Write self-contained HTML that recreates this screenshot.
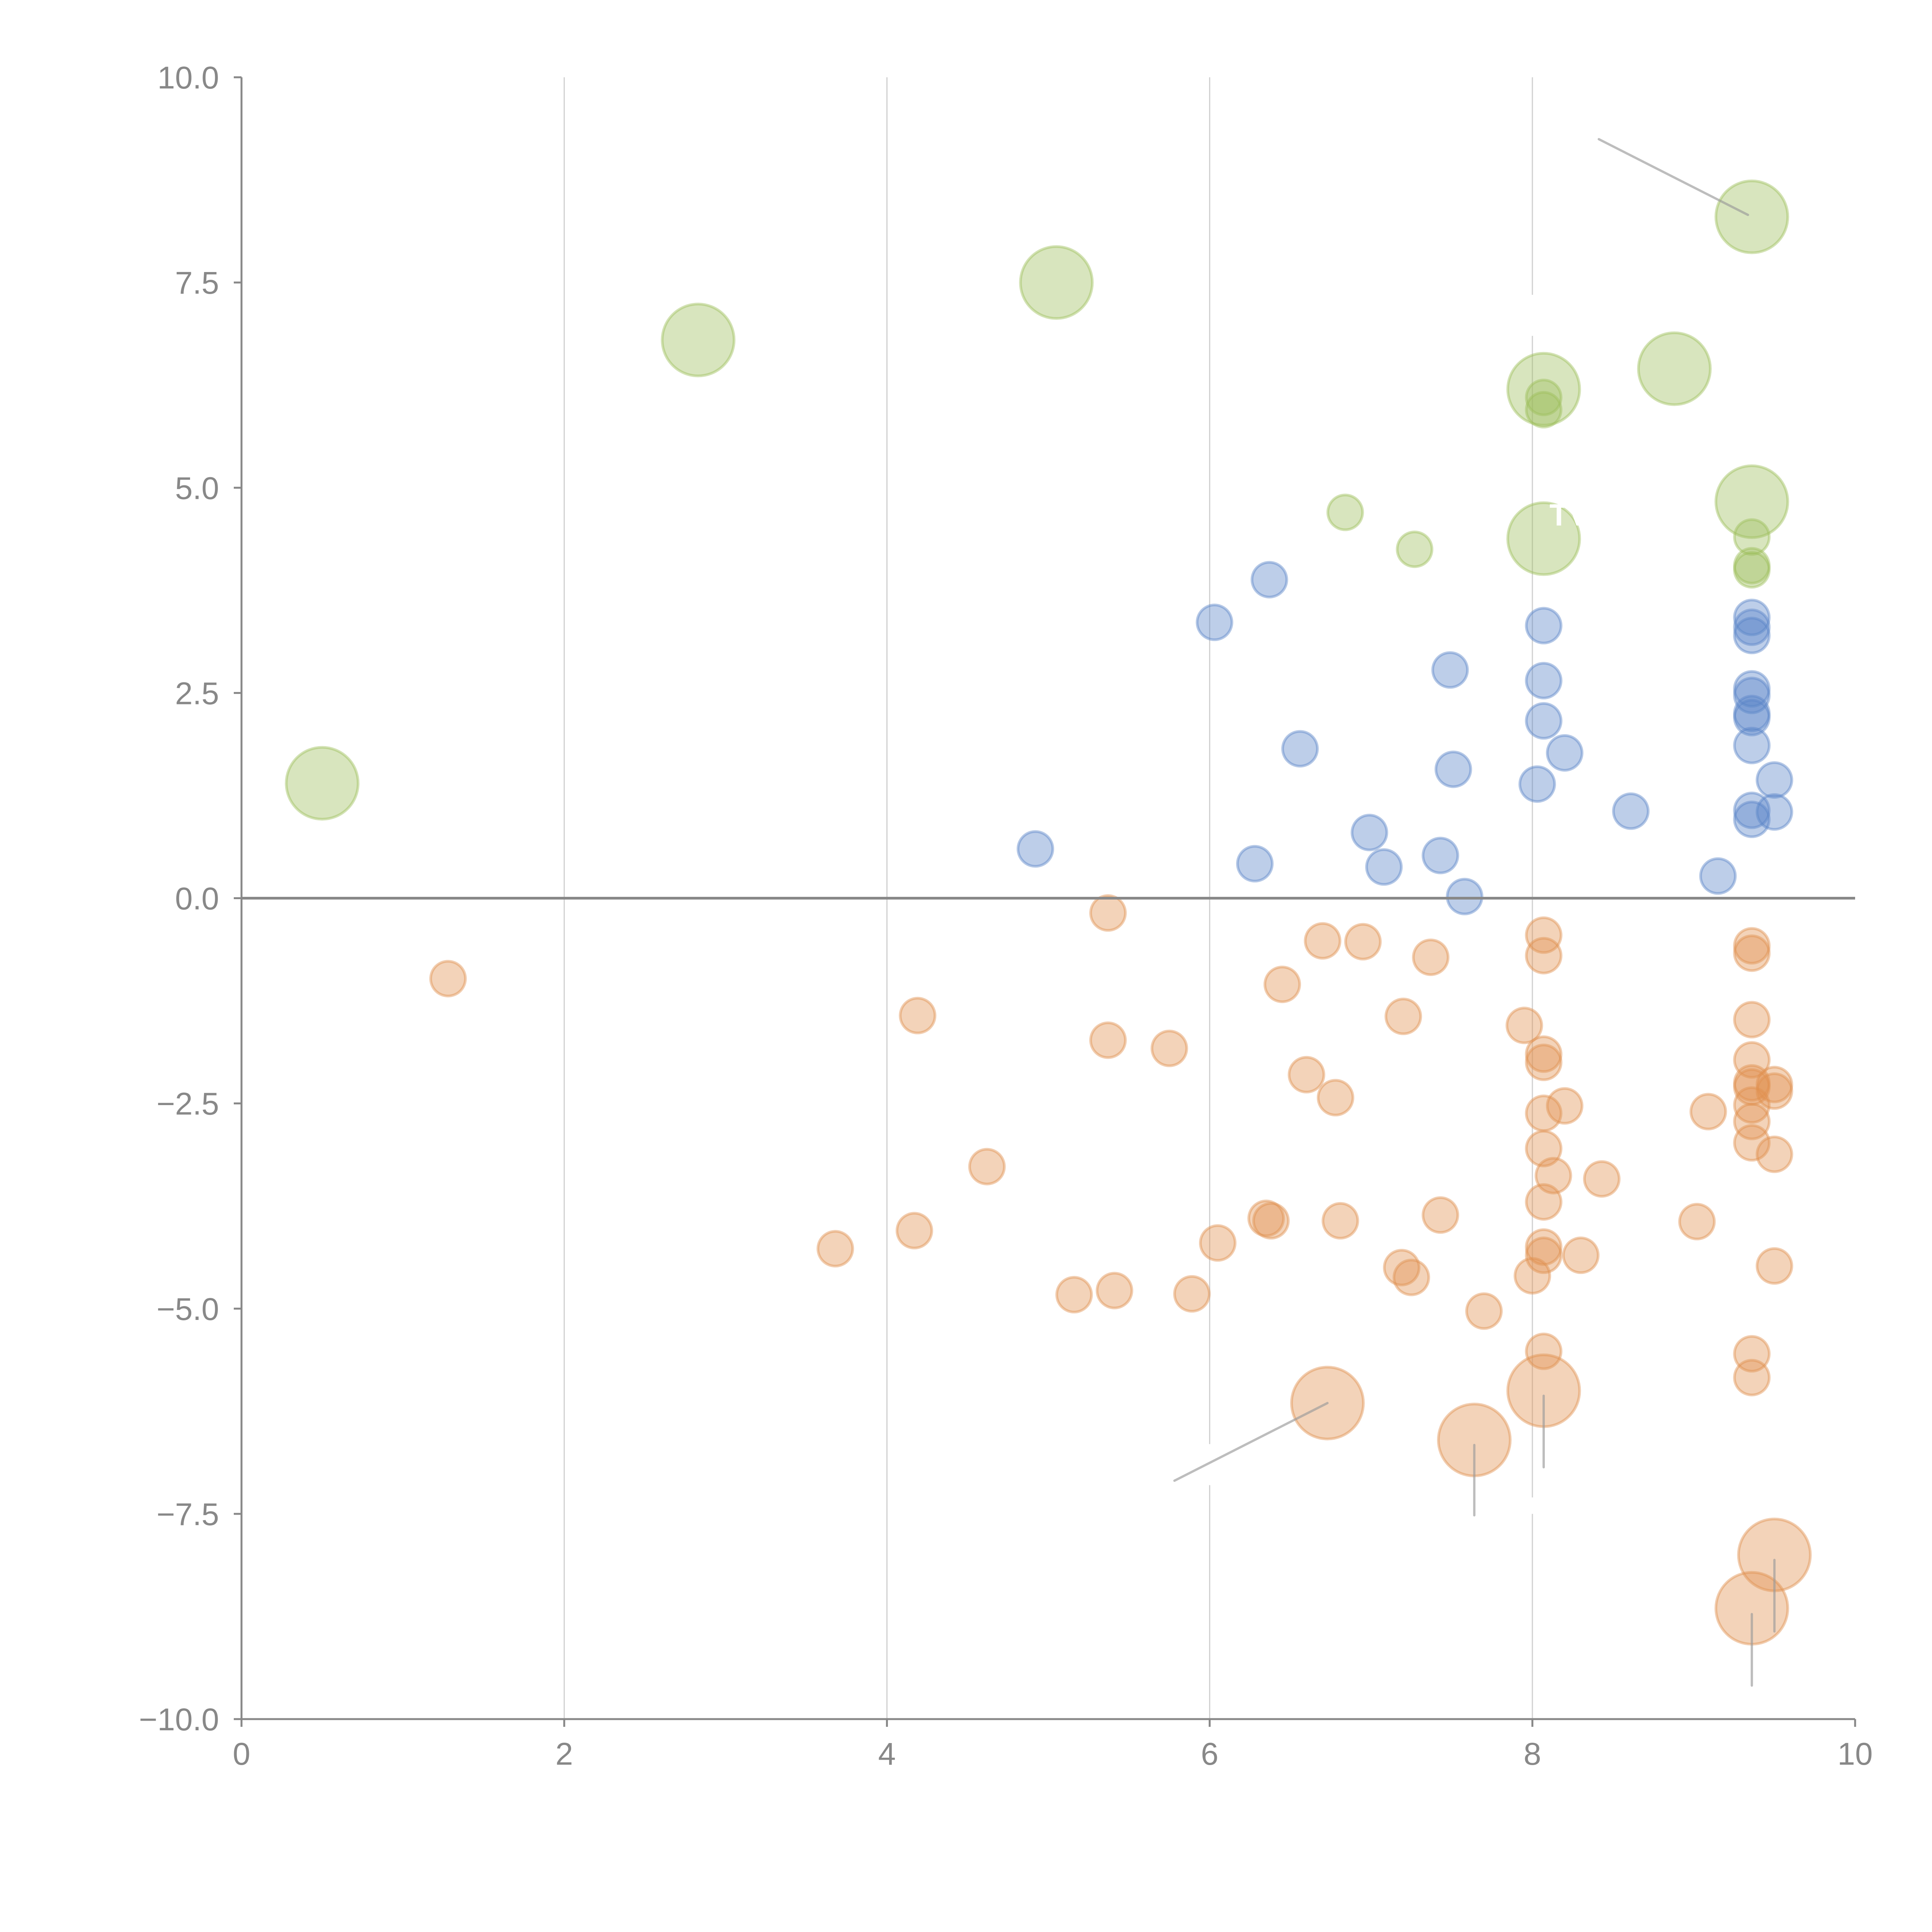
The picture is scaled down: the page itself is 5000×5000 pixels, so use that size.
<!DOCTYPE html>
<html><head><meta charset="utf-8"><style>
html,body{margin:0;padding:0;background:#fff;}
svg{display:block;}
text{font-family:"Liberation Sans",sans-serif;fill:#888;}
</style></head><body>
<svg id="chart" width="5000" height="5000" viewBox="0 0 5000 5000" xmlns="http://www.w3.org/2000/svg">
<g id="grid"></g>
<g id="marks"></g>
<g id="axes"></g>
</svg>
<script>
const xTicks = [0, 2, 4, 6, 8, 10];
const xTickLabels = ["0", "2", "4", "6", "8", "10"];
const yTicks = [-10, -7.5, -5, -2.5, 0, 2.5, 5, 7.5, 10];
const yTickLabels = ["\u221210.0", "\u22127.5", "\u22125.0", "\u22122.5", "0.0", "2.5", "5.0", "7.5", "10.0"];

const greenX = [9.36, 5.05, 2.83, 0.5, 8.07, 8.07, 8.07, 8.88, 9.36, 8.07, 6.84, 7.27, 9.36, 9.36, 9.36];
const greenY = [8.3, 7.5, 6.8, 1.4, 6.2, 6.1, 5.95, 6.45, 4.83, 4.38, 4.7, 4.25, 4.4, 4.05, 4.0];
const greenS = [3, 3, 3, 3, 3, 1, 1, 3, 3, 3, 1, 1, 1, 1, 1];

const blueX = [6.37, 6.03, 4.92, 6.28, 6.56, 6.99, 7.08, 7.43, 7.58, 7.49, 7.51, 8.07, 8.07, 8.07, 8.2, 8.03, 8.61, 9.15, 9.36, 9.36, 9.36, 9.36, 9.36, 9.36, 9.36, 9.36, 9.5, 9.5, 9.36, 9.36];
const blueY = [3.88, 3.36, 0.6, 0.42, 1.82, 0.8, 0.38, 0.52, 0.02, 2.78, 1.57, 3.32, 2.65, 2.16, 1.77, 1.39, 1.06, 0.27, 3.42, 3.2, 3.3, 2.55, 2.47, 2.25, 2.2, 1.86, 1.44, 1.05, 1.07, 0.96];

const orangeX = [1.28, 5.37, 6.7, 6.95, 7.37, 6.45, 4.19, 5.37, 5.75, 7.2, 7.95, 6.6, 6.78, 4.62, 3.68, 4.17, 5.16, 5.41, 5.89, 6.05, 6.35, 6.38, 6.81, 7.19, 7.25, 7.43, 7.7, 8.07, 8.07, 8.07, 8.07, 8.07, 8.2, 8.07, 8.13, 8.07, 8.07, 8.07, 8.0, 8.3, 8.43, 9.02, 9.09, 8.07, 9.36, 9.36, 9.36, 9.36, 9.36, 9.36, 9.5, 9.5, 9.36, 9.36, 9.36, 9.5, 9.5, 9.36, 9.36, 6.73, 7.64, 8.07, 9.5, 9.36];
const orangeY = [-0.98, -0.18, -0.52, -0.53, -0.72, -1.05, -1.43, -1.73, -1.83, -1.44, -1.55, -2.15, -2.43, -3.27, -4.27, -4.05, -4.83, -4.78, -4.82, -4.2, -3.9, -3.93, -3.93, -4.5, -4.62, -3.86, -5.03, -0.45, -0.7, -1.9, -2.0, -2.62, -2.53, -3.05, -3.38, -3.7, -4.25, -4.35, -4.6, -4.35, -3.42, -3.94, -2.6, -5.52, -0.58, -0.67, -1.48, -1.97, -2.25, -2.3, -2.27, -2.35, -2.52, -2.72, -2.98, -3.12, -4.48, -5.55, -5.84, -6.15, -6.6, -6.0, -8.0, -8.65];
const orangeS = orangeX.map((v, i) => i >= 59 ? 3 : 1);

const L = 625, R = 4801, T = 200, B = 4449;
const xScale = v => L + (v - 0) / 10 * (R - L);
const yScale = v => B - (v + 10) / 20 * (B - T);
const rScale = s => s >= 3 ? 93 : 45;

const NS = "http://www.w3.org/2000/svg";
function mk(tag, attrs, parent) {
  const e = document.createElementNS(NS, tag);
  for (const k in attrs) e.setAttribute(k, attrs[k]);
  parent.appendChild(e);
  return e;
}
const grid = document.getElementById('grid');
const marks = document.getElementById('marks');
const axes = document.getElementById('axes');

xTicks.forEach((t, i) => {
  if (t === 0 || t === 10) return;
  const g = mk('line', {x1: xScale(t), x2: xScale(t), y1: T, y2: B, stroke: '#d0d0d0', 'stroke-width': 3}, grid);
  
  
});
// white gaps in grid lines (label occlusion)
const gapX = [6, 8, 8];
const gapY0 = [-6.65, 7.35, -7.3];
const gapY1 = [-7.15, 6.85, -7.5];
gapX.forEach((gx, i) => {
  const r = mk('rect', {x: xScale(gx) - 4, y: yScale(gapY0[i]), width: 8, height: yScale(gapY1[i]) - yScale(gapY0[i]), fill: '#fff'}, grid);
  
  
});

function drawSeries(xs, ys, ss, fill, stroke, name, defR) {
  const g = mk('g', {}, marks);
  
  
  xs.forEach((x, i) => {
    const r = ss ? rScale(ss[i]) : defR;
    const c = mk('circle', {cx: xScale(x), cy: yScale(ys[i]), r: r, fill: fill, 'fill-opacity': 0.4, stroke: stroke, 'stroke-opacity': 0.45, 'stroke-width': 7}, g);
    
    
  });
}
drawSeries(greenX, greenY, greenS, '#9dbf5c', '#9dbf5c', 'green', 41);
drawSeries(blueX, blueY, null, '#5b84c8', '#5b84c8', 'blue', 45);
drawSeries(orangeX, orangeY, orangeS, '#e0914f', '#e0914f', 'orange', 45);

const leaderSeries = ['green', 'orange', 'orange', 'orange', 'orange', 'orange'];
const leaderIndex = [0, 59, 60, 61, 62, 63];
const leaderStart = [[-10, -5], [0, 0], [0, 13], [0, 13], [0, 13], [0, 15]];
const leaderEnd = [[-396, -201], [-396, 201], [0, 195], [0, 198], [0, 198], [0, 200]];
leaderIndex.forEach((idx, i) => {
  const xs = leaderSeries[i] === 'green' ? greenX : orangeX;
  const ys = leaderSeries[i] === 'green' ? greenY : orangeY;
  const cx = xScale(xs[idx]), cy = yScale(ys[idx]);
  const l = mk('line', {x1: cx + leaderStart[i][0], y1: cy + leaderStart[i][1], x2: cx + leaderEnd[i][0], y2: cy + leaderEnd[i][1], stroke: '#999', 'stroke-opacity': 0.65, 'stroke-width': 6, 'stroke-linecap': 'round'}, marks);
  
  
});
const lbl = mk('text', {x: 4010, y: 1360, 'font-size': 80, 'font-weight': 'bold', style: 'fill:#fff'}, marks);
lbl.textContent = 'TV';



const z = mk('line', {x1: L, x2: R, y1: yScale(0), y2: yScale(0), stroke: '#888', 'stroke-width': 7}, axes);



const ya = mk('line', {x1: L, x2: L, y1: T, y2: B, stroke: '#888', 'stroke-width': 5}, axes);


const xa = mk('line', {x1: L - 18, x2: R, y1: B, y2: B, stroke: '#888', 'stroke-width': 5}, axes);



yTicks.forEach((t, i) => {
  const y = yScale(t);
  const tk = mk('line', {x1: L - 20, x2: L, y1: y, y2: y, stroke: '#888', 'stroke-width': 5}, axes);
  
  
  const tx = mk('text', {x: L - 58, y: y + 29, 'text-anchor': 'end', 'font-size': 82}, axes);
  tx.textContent = yTickLabels[i];
  
  
});
xTicks.forEach((t, i) => {
  const x = xScale(t);
  const tk = mk('line', {x1: x, x2: x, y1: B, y2: B + 20, stroke: '#888', 'stroke-width': 5}, axes);
  
  
  const tx = mk('text', {x: x, y: B + 118, 'text-anchor': 'middle', 'font-size': 82}, axes);
  tx.textContent = xTickLabels[i];
  
  
});
</script>
</body></html>
